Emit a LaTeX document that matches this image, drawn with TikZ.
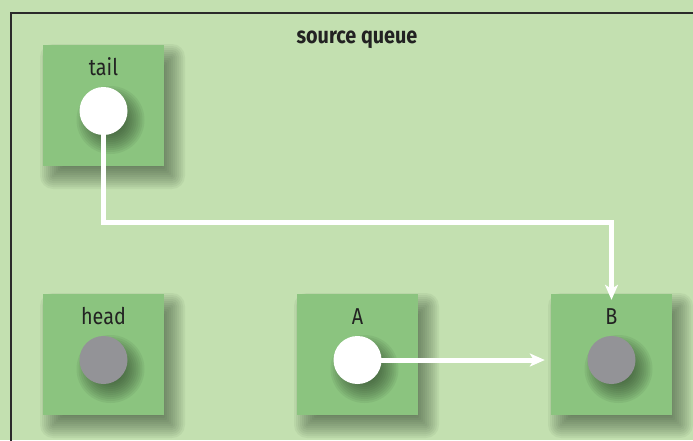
\documentclass[tikz,border=0pt]{standalone}
\usepackage{fontspec}
\setmainfont[FakeStretch=0.86]{Fira Sans}
\usetikzlibrary{arrows.meta}
\definecolor{bgc}{HTML}{C3E0B0}
\definecolor{boxc}{HTML}{8BC47F}
\definecolor{dotgray}{HTML}{939397}
\definecolor{framec}{HTML}{2A2A2A}
\definecolor{txtc}{HTML}{222222}
\definecolor{shadc}{HTML}{263A24}
\tikzset{
  cell/.style={fill=boxc, draw=none, minimum width=121pt, minimum height=121pt, inner sep=0pt},
  dotw/.style={circle, fill=white, minimum size=48pt, inner sep=0pt},
  dotg/.style={dotw, fill=dotgray},
  lbl/.style={text=txtc, font=\fontsize{23}{26}\selectfont, inner sep=0pt, anchor=base},
  ptr/.style={draw=white, line width=5pt, -{Stealth[length=15pt,width=13pt,inset=4pt]}},
  shadowlayer/.style={fill=shadc, fill opacity=0.06},
}
\begin{document}
\begin{tikzpicture}[x=1pt,y=-1pt]
\fill[bgc] (0,0) rectangle (693,440);
\useasboundingbox (0,0) rectangle (693,440);
\begin{scope}
\clip (0,0) rectangle (693,440);
\draw[framec, line width=2.5pt] (11,13) rectangle (720,470);
% box shadows
\foreach \cx/\cy in {103.5/105.5, 103.5/354.5, 357.5/354.5, 611.5/354.5}{
  \foreach \r in {-12,-10,...,12}{
    \pgfmathsetmacro{\hs}{60.5+\r}
    \pgfmathsetmacro{\rc}{max(\r,0)+1}
    \fill[shadowlayer, rounded corners=\rc pt]
      (\cx+9-\hs,\cy+11-\hs) rectangle (\cx+9+\hs,\cy+11+\hs);
  }
}
\end{scope}
\node[cell] (tailc) at (103.5,105.5) {};
\node[cell] (headc) at (103.5,354.5) {};
\node[cell] (ac) at (357.5,354.5) {};
\node[cell] (bc) at (611.5,354.5) {};
\node[text=txtc, font=\bfseries\fontsize{23}{26}\selectfont, inner sep=0pt, anchor=base] (title) at (357,43) {source queue};
% labels
\node[lbl] (tl) at (103.5,75) {tail};
\node[lbl] (hl) at (103.5,324) {head};
\node[lbl] (al) at (357.5,324) {A};
\node[lbl] (bl) at (611.5,324) {B};
% dot centres
\coordinate (tdc) at (103.5,111);
\coordinate (hdc) at (103.5,360);
\coordinate (adc) at (357.5,360);
\coordinate (bdc) at (611.5,360);
% dot shadows
\foreach \cx/\cy in {103.5/111, 103.5/360, 357.5/360, 611.5/360}{
  \foreach \r in {-10,-8,...,10}{
    \fill[shadowlayer, fill opacity=0.075] (\cx+7,\cy+9) circle[radius=24+\r];
  }
}
% pointers
\draw[ptr] (tdc) |- (611.5,222) -- ([yshift=-6pt]bc.north);
\draw[ptr] (adc) -- ([xshift=-6pt]bc.west |- adc);
% dots
\node[dotw] (td) at (tdc) {};
\node[dotg] (hd) at (hdc) {};
\node[dotw] (ad) at (adc) {};
\node[dotg] (bd) at (bdc) {};
\end{tikzpicture}
\end{document}
